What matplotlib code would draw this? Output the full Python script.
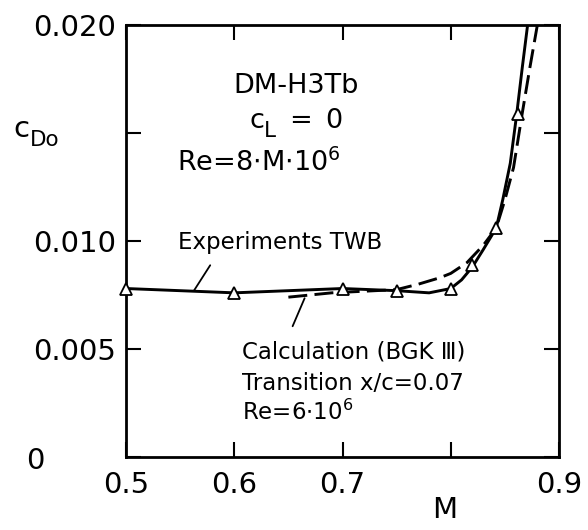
import matplotlib
matplotlib.use("Agg")
import matplotlib.pyplot as plt

# ---- data ----
exp_M = [0.50, 0.60, 0.70, 0.75, 0.80, 0.82, 0.842, 0.862]
exp_cd = [0.0078, 0.0076, 0.0078, 0.0077, 0.0078, 0.0089, 0.0106, 0.0159]

fair_M = [0.50, 0.55, 0.60, 0.65, 0.70, 0.75, 0.78, 0.80, 0.81, 0.82, 0.83,
          0.842, 0.848, 0.855, 0.861, 0.866, 0.871]
fair_cd = [0.0078, 0.0077, 0.0076, 0.0077, 0.0078, 0.0077, 0.0076, 0.0078,
           0.0082, 0.0088, 0.0096, 0.0106, 0.0119, 0.0136, 0.0159, 0.0180, 0.0200]

calc_M = [0.650, 0.69, 0.75, 0.77, 0.79, 0.80, 0.815, 0.83, 0.842, 0.850,
          0.858, 0.866, 0.873, 0.880]
calc_cd = [0.0074, 0.0076, 0.00775, 0.0080, 0.0083, 0.0085, 0.0090, 0.0098,
           0.0106, 0.0119, 0.0134, 0.0159, 0.0180, 0.0200]

x_ticks = [0.5, 0.6, 0.7, 0.8, 0.9]
x_labels = ["0.5", "0.6", "0.7", "", "0.9"]
y_ticks = [0.0, 0.005, 0.010, 0.015, 0.020]
y_labels = ["", "0.005", "0.010", "", "0.020"]

W, H = 588, 530
BIG = 19.5
TICK = 21
MID = 16.5

fig = plt.figure(figsize=(W / 100, H / 100), dpi=100)
ax = fig.add_axes([126 / W, 1 - 457 / H, (559 - 126) / W, (457 - 25) / H])

ax.plot(fair_M, fair_cd, color="black", lw=2.1, solid_capstyle="butt")
ax.plot(calc_M, calc_cd, color="black", lw=2.1, dashes=(6.5, 2.5))
ax.plot(exp_M, exp_cd, linestyle="none", marker="^", markersize=9,
        markerfacecolor="white", markeredgecolor="black", markeredgewidth=1.3,
        clip_on=False, zorder=5)

ax.set_xlim(0.5, 0.9)
ax.set_ylim(0.0, 0.020)
ax.set_xticks(x_ticks)
ax.set_xticklabels(x_labels)
ax.set_yticks(y_ticks)
ax.set_yticklabels(y_labels)
ax.tick_params(axis="both", direction="in", length=11, width=1.5,
               top=True, right=True, labelsize=TICK, colors="black")
ax.tick_params(axis="x", pad=10)
ax.tick_params(axis="y", pad=7)
for s in ax.spines.values():
    s.set_linewidth(2.0)


def ftext(px, py, s, size, ha="left", va="center"):
    fig.text(px / W, 1 - py / H, s, fontsize=size, ha=ha, va=va,
             color="black")


ftext(35, 461, "0", TICK, ha="center")
ftext(445, 510, "M", TICK, ha="center")

# c_Do
ftext(13, 129, "c", TICK)
ftext(30, 140, "Do", 15.5)

ftext(233, 86, "DM-H3Tb", BIG)
# c_L = 0
ftext(250, 121, "c", BIG)
ftext(264, 131, "L", 15.5)
ftext(289, 121, "=", BIG)
ftext(325, 121, "0", BIG)
ftext(177, 163, r"Re=8$\cdot$M$\cdot$10$^{\mathregular{6}}$", BIG)

ftext(178, 243, "Experiments TWB", MID)
ftext(242, 352, "Calculation (BGK \u2162)", MID)
ftext(242, 383, "Transition x/c=0.07", MID)
ftext(242, 412, r"Re=6$\cdot$10$^{\mathregular{6}}$", MID)

lead = dict(arrowstyle="-", lw=1.3, color="black", shrinkA=0, shrinkB=0)
ax.annotate("", xy=(0.563, 0.00772), xytext=(16, 25),
            textcoords="offset pixels", arrowprops=lead)
ax.annotate("", xy=(0.665, 0.00735), xytext=(-12, -28),
            textcoords="offset pixels", arrowprops=lead)

fig.savefig("out.png", dpi=100, facecolor="white")
